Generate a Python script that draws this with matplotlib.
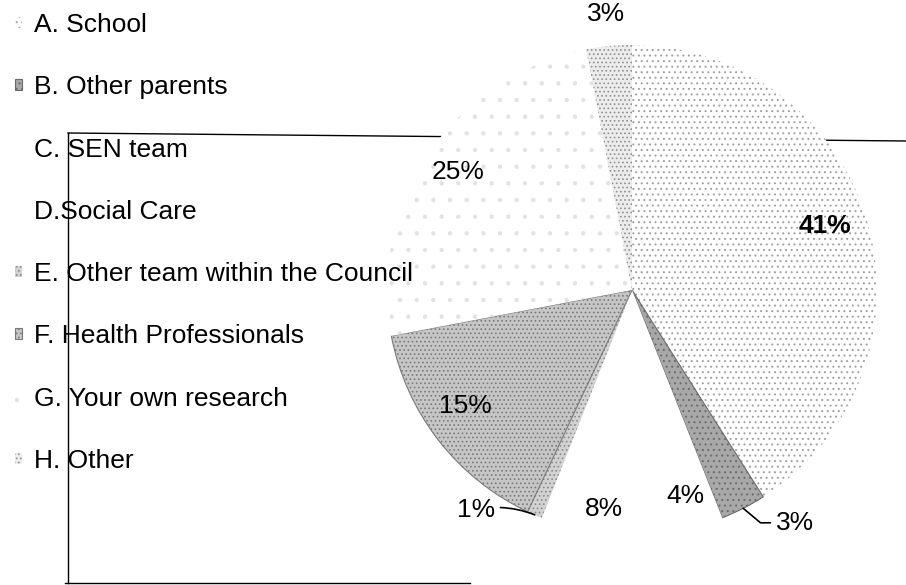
import numpy as np
import matplotlib
matplotlib.use("Agg")
import matplotlib.pyplot as plt

plt.rcParams['font.family'] = ['Liberation Sans', 'DejaVu Sans']
plt.rcParams['hatch.linewidth'] = 0.7

# Sources of information
categories = ["A. School", "B. Other parents", "C. SEN team", "D.Social Care",
              "E. Other team within the Council", "F. Health Professionals",
              "G. Your own research", "H. Other"]
shares = [41, 3, 4, 8, 1, 15, 25, 3]
pct_labels = ["41%", "3%", "4%", "8%", "1%", "15%", "25%", "3%"]

# Stippled grey fills
face_colors = ["#ffffff", "#a8a8a8", "#ffffff", "#ffffff", "#d2d2d2", "#c6c6c6", "#ffffff", "#ececec"]
hatch_colors = ["#a0a0a0", "#6a6a6a", "#ffffff", "#ffffff", "#8a8a8a", "#7a7a7a", "#e2e2e2", "#909090"]
hatches = ["...", "...", None, None, "....", "....", ".", "...."]
edge_widths = [0, 0.8, 0, 0, 0, 0.8, 0, 0]

# Label placement: radius fraction, angular nudge (degrees), weight
label_dist = [0.83, 1.16, 0.87, 0.90, 1.10, 0.83, 0.86, 1.13]
label_nudge = [2, 8, 0, 0, -12, -3, 0, 0]
label_weight = ["bold", "normal", "normal", "normal", "normal", "normal", "normal", "normal"]
leader = [False, True, False, False, True, False, False, False]
leader_style = [None, "angle,angleA=0,angleB=140,rad=0", None, None,
                "arc3,rad=-0.15", None, None, None]

W, H = 906, 585
cx, cy, r = 632, 295, 245

fig = plt.figure(figsize=(W / 100, H / 100), dpi=100)
ax = fig.add_axes([0, 0, 1, 1])
ax.set_xlim(0, W)
ax.set_ylim(0, H)
ax.set_aspect('equal')
ax.axis('off')

# plot-area border sitting behind the pie
ax.plot([68, W], [452, 444], color='black', lw=1.0, zorder=1)
ax.plot([68, 68], [452, 2], color='black', lw=1.0, zorder=1)
ax.plot([65, 470], [2, 2], color='black', lw=1.0, zorder=1)

wedges, _ = ax.pie(shares, colors=face_colors, startangle=90, counterclock=False,
                   center=(cx, cy), radius=r, frame=True,
                   wedgeprops=dict(linewidth=0, zorder=2))
ax.set_xlim(0, W)
ax.set_ylim(0, H)
ax.axis('off')

for w, hc, ht, ew in zip(wedges, hatch_colors, hatches, edge_widths):
    w.set_edgecolor(hc)
    w.set_linewidth(ew)
    if ht:
        w.set_hatch(ht)

for w, lab, d, nud, wt, ld, ls in zip(wedges, pct_labels, label_dist, label_nudge,
                                      label_weight, leader, leader_style):
    mid = np.deg2rad((w.theta1 + w.theta2) / 2 + nud)
    tx, ty = cx + d * r * np.cos(mid), cy + d * r * np.sin(mid)
    if ld:
        amid = np.deg2rad((w.theta1 + w.theta2) / 2)
        ax_pt = (cx + r * np.cos(amid), cy + r * np.sin(amid))
        ax.annotate(lab, xy=ax_pt, xytext=(tx, ty), ha='center', va='center',
                    fontsize=19, fontweight=wt, zorder=5,
                    arrowprops=dict(arrowstyle='-', color='black', lw=1.2,
                                    shrinkA=2, shrinkB=0, connectionstyle=ls))
    else:
        ax.text(tx, ty, lab, ha='center', va='center', fontsize=19,
                fontweight=wt, zorder=5)

leg = ax.legend(wedges, categories, loc='upper left', bbox_to_anchor=(15, 572),
                bbox_transform=ax.transData, frameon=False, fontsize=19,
                handlelength=0.28, handleheight=0.28, handletextpad=0.45,
                labelspacing=1.45, borderpad=0, borderaxespad=0)
leg.set_zorder(6)

fig.savefig("out.png", dpi=100)
